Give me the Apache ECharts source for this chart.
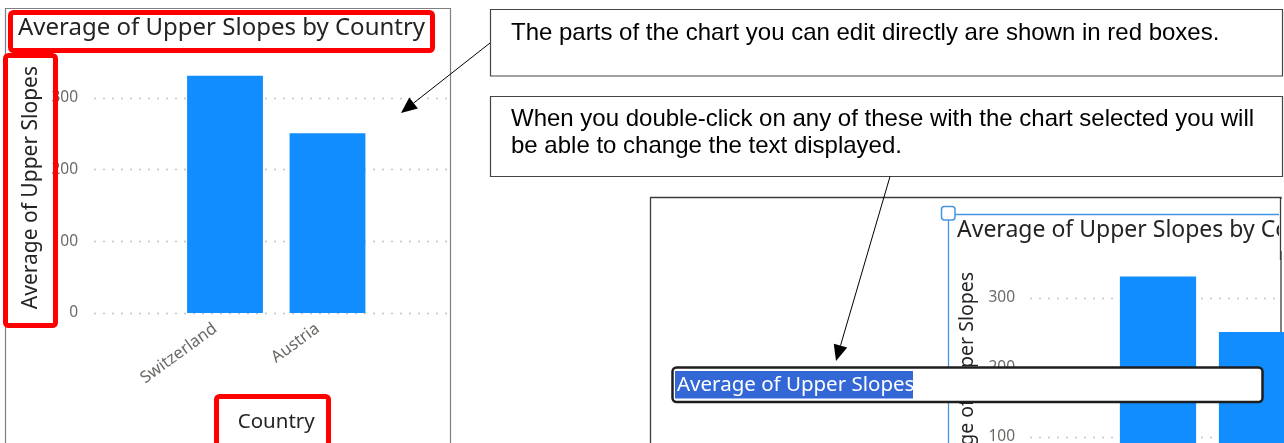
<!DOCTYPE html>
<html><head><meta charset="utf-8">
<script src="https://cdn.jsdelivr.net/npm/echarts@6/dist/echarts.min.js"></script>
<style>html,body{margin:0;padding:0;background:#fff}#c{width:1284px;height:443px}</style>
</head><body><div id="c"></div>
<script>
// ---- data ----
const categories = ['Switzerland', 'Austria'];
const avgUpperSlopes = [331, 251];
const yTickMax = 300;
const yTickStep = 100;
const chartTitle = 'Average of Upper Slopes by Country';
const yAxisTitle = 'Average of Upper Slopes';
const xAxisTitle = 'Country';
const note1 = 'The parts of the chart you can edit directly are shown in red boxes.';
const note2a = 'When you double-click on any of these with the chart selected you will';
const note2b = 'be able to change the text displayed.';
const editText = 'Average of Upper Slopes';

// ---- styles ----
const PBI = 'Noto Sans';
const BAR = '#118DFF';
const LBL = '#6B6966';
const DARK = '#252423';
const RED = '#FF0000';
const SEL = '#4596E0';

function arrow(x1, y1, x2, y2, len, half) {
  const dx = x2 - x1, dy = y2 - y1, L = Math.hypot(dx, dy), ux = dx / L, uy = dy / L;
  const bx = x2 - ux * len, by = y2 - uy * len, nx = -uy * half, ny = ux * half;
  return [
    {type: 'line', z: 50, shape: {x1, y1, x2: bx, y2: by}, style: {stroke: '#000', lineWidth: 1}},
    {type: 'polygon', z: 50, shape: {points: [[x2, y2], [bx + nx, by + ny], [bx - nx, by - ny]]}, style: {fill: '#000'}}
  ];
}

function valueGridAxis(grid, margin) {
  return {
    type: 'value', gridIndex: grid, min: 0, max: yTickMax, interval: yTickStep,
    axisLine: {show: false}, axisTick: {show: false},
    axisLabel: {color: LBL, fontSize: 15.5, fontFamily: PBI, margin: margin},
    splitLine: {show: true, lineStyle: {color: '#C4C4C4', width: 1.3, type: [2, 7]}}
  };
}
function barValueAxis(grid, gap, fs) {
  return {
    type: 'value', gridIndex: grid, min: 0, max: 350,
    axisLine: {show: false}, axisTick: {show: false}, axisLabel: {show: false}, splitLine: {show: false},
    name: yAxisTitle, nameLocation: 'middle', nameRotate: 90, nameGap: gap,
    nameTextStyle: {fontFamily: PBI, fontSize: fs, color: DARK, verticalAlign: 'middle', align: 'center'}
  };
}
function catAxis(grid, withName) {
  const a = {
    type: 'category', gridIndex: grid, data: categories,
    axisLine: {show: false}, axisTick: {show: false},
    axisLabel: {color: LBL, fontSize: 16.5, fontFamily: PBI, rotate: 36, margin: 7, padding: [0, 12, 0, 0], interval: 0}
  };
  if (withName) {
    a.name = xAxisTitle; a.nameLocation = 'middle'; a.nameGap = 109;
    a.nameTextStyle = {fontFamily: PBI, fontSize: 20.5, color: DARK, verticalAlign: 'middle', align: 'center'};
  }
  return a;
}
const hiddenX = g => ({type: 'category', gridIndex: g, data: [''], show: false});

const graphic = [
  // left chart frame
  {type: 'polyline', z: 1, shape: {points: [[5.5, 443], [5.5, 8.5], [450.5, 8.5], [450.5, 443]]}, style: {stroke: '#808080', lineWidth: 1.2, fill: null}},
  // red boxes
  {type: 'rect', z: 100, shape: {x: 10.5, y: 12.5, width: 422, height: 38, r: 3}, style: {stroke: RED, lineWidth: 5, fill: null}},
  {type: 'rect', z: 100, shape: {x: 5.5, y: 55.5, width: 50, height: 270, r: 3}, style: {stroke: RED, lineWidth: 5, fill: null}},
  {type: 'rect', z: 100, shape: {x: 216.5, y: 396.5, width: 112, height: 60, r: 3}, style: {stroke: RED, lineWidth: 5, fill: null}},
  // callout boxes
  {type: 'rect', z: 40, shape: {x: 490.5, y: 9.5, width: 792, height: 66.5}, style: {stroke: '#444', lineWidth: 1.2, fill: '#fff'}},
  {type: 'text', z: 41, x: 511, y: 33.5, style: {text: note1, fontFamily: 'Liberation Sans', fontSize: 24, fill: '#000', verticalAlign: 'middle'}},
  {type: 'rect', z: 40, shape: {x: 490.5, y: 96.5, width: 792, height: 80}, style: {stroke: '#444', lineWidth: 1.2, fill: '#fff'}},
  {type: 'text', z: 41, x: 511, y: 119.5, style: {text: note2a, fontFamily: 'Liberation Sans', fontSize: 24, fill: '#000', verticalAlign: 'middle'}},
  {type: 'text', z: 41, x: 511, y: 146.5, style: {text: note2b, fontFamily: 'Liberation Sans', fontSize: 24, fill: '#000', verticalAlign: 'middle'}},
  // screenshot frame (right)
  {type: 'rect', z: 0, shape: {x: 650.5, y: 197.5, width: 630.5, height: 300}, style: {stroke: '#3C3C3C', lineWidth: 1.3, fill: '#fff'}},
  // clip of right title
  {type: 'rect', z: 30, shape: {x: 1279, y: 199, width: 6, height: 52}, style: {fill: '#fff'}},
  {type: 'line', z: 31, shape: {x1: 1280.5, y1: 197, x2: 1280.5, y2: 260}, style: {stroke: '#3C3C3C', lineWidth: 1.3}},
  // selection frame
  {type: 'line', z: 32, shape: {x1: 955, y1: 214.5, x2: 1279, y2: 214.5}, style: {stroke: SEL, lineWidth: 1.3}},
  {type: 'line', z: 32, shape: {x1: 948.5, y1: 220, x2: 948.5, y2: 443}, style: {stroke: SEL, lineWidth: 1.3}},
  {type: 'rect', z: 33, shape: {x: 941.5, y: 206.5, width: 13.5, height: 13.5, r: 3}, style: {stroke: SEL, lineWidth: 1.5, fill: '#fff'}},
  // edit text box
  {type: 'rect', z: 60, shape: {x: 672.5, y: 367.5, width: 590, height: 34.5, r: 4}, style: {stroke: '#1E1E1E', lineWidth: 2.5, fill: '#fff'}},
  {type: 'rect', z: 61, shape: {x: 675, y: 371, width: 238, height: 27.5}, style: {fill: '#3367D6'}},
  {type: 'text', z: 62, x: 677, y: 385, style: {text: editText, fontFamily: PBI, fontSize: 20.5, fill: '#fff', verticalAlign: 'middle'}}
].concat(arrow(490, 43, 401, 113, 16, 7), arrow(890, 176.5, 836, 361, 16, 7));

const option = {
  animation: false,
  backgroundColor: '#fff',
  title: [
    {text: chartTitle, left: 18, top: 16, padding: 0, z: 5, textStyle: {fontFamily: PBI, fontSize: 24, fontWeight: 'normal', color: DARK}},
    {text: chartTitle, left: 957, top: 218.5, padding: 0, z: 5, textStyle: {fontFamily: PBI, fontSize: 23, fontWeight: 'normal', color: DARK}}
  ],
  grid: [
    {left: 94, top: 98, width: 353, height: 215, containLabel: false, outerBoundsMode: 'none'},
    {left: 173.75, top: 62.2, width: 205, height: 250.8, containLabel: false, outerBoundsMode: 'none'},
    {left: 1030, top: 298, width: 250, height: 208.5, containLabel: false, outerBoundsMode: 'none'},
    {left: 1108.5, top: 263.25, width: 198, height: 243.25, containLabel: false, outerBoundsMode: 'none'}
  ],
  xAxis: [hiddenX(0), catAxis(1, true), hiddenX(2), catAxis(3, false)],
  yAxis: [valueGridAxis(0, 16), barValueAxis(1, 142.25, 21), valueGridAxis(2, 15), barValueAxis(3, 141.5, 19.5)],
  series: [
    {type: 'bar', xAxisIndex: 1, yAxisIndex: 1, data: avgUpperSlopes, barCategoryGap: '26%', itemStyle: {color: BAR}, z: 3},
    {type: 'bar', xAxisIndex: 3, yAxisIndex: 3, data: avgUpperSlopes, barCategoryGap: '23%', itemStyle: {color: BAR}, z: 3}
  ],
  graphic: {elements: graphic}
};
const chart = echarts.init(document.getElementById('c'), null, {renderer: 'canvas'});
chart.setOption(option);
</script></body></html>
